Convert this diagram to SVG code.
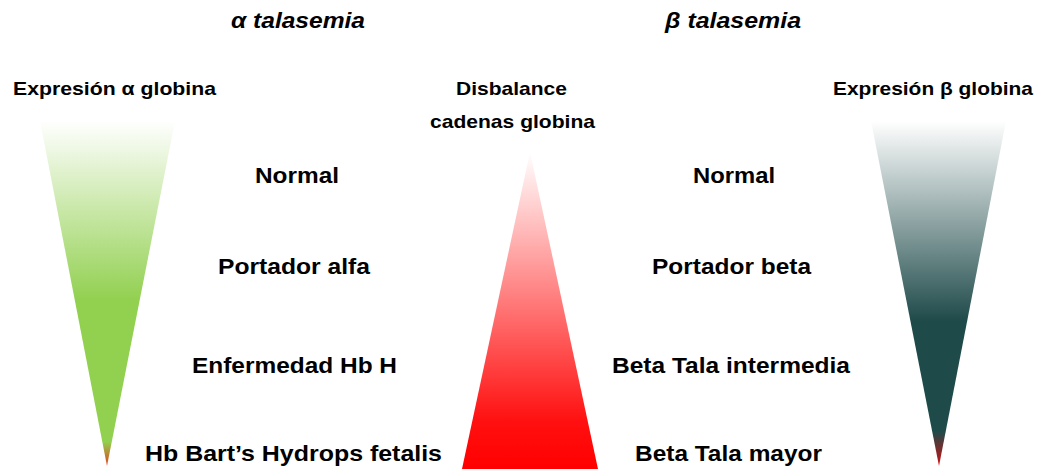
<svg xmlns="http://www.w3.org/2000/svg" width="1037" height="470" viewBox="0 0 1037 470">
<style>
.t{font-family:"Liberation Sans",Arial,sans-serif;font-weight:bold;fill:#000;text-anchor:middle}
.h{font-size:22px;font-style:italic}
.s{font-size:19px}
.l{font-size:22px}
</style>
<defs>
<linearGradient id="gA" x1="0" y1="121" x2="0" y2="466" gradientUnits="userSpaceOnUse">
<stop offset="0" stop-color="#ffffff"/>
<stop offset="0.52" stop-color="#92d050"/>
<stop offset="0.93" stop-color="#92d050"/>
<stop offset="1" stop-color="#e0401a"/>
</linearGradient>
<linearGradient id="gR" x1="0" y1="152" x2="0" y2="469" gradientUnits="userSpaceOnUse">
<stop offset="0" stop-color="#ffffff"/>
<stop offset="0.85" stop-color="#ff1010"/>
<stop offset="1" stop-color="#ff0000"/>
</linearGradient>
<linearGradient id="gB" x1="0" y1="121" x2="0" y2="466" gradientUnits="userSpaceOnUse">
<stop offset="0" stop-color="#ffffff"/>
<stop offset="0.58" stop-color="#1f4a4a"/>
<stop offset="0.9" stop-color="#1f4a4a"/>
<stop offset="1" stop-color="#d01010"/>
</linearGradient>
</defs>
<g id="titles">
<text class="t h" x="298" y="28" textLength="134" lengthAdjust="spacingAndGlyphs">α talasemia</text>
<text class="t h" x="733" y="28" textLength="136" lengthAdjust="spacingAndGlyphs">β talasemia</text>
</g>
<g id="alpha-triangle">
<polygon points="40,121 175,121 107,466" fill="url(#gA)"/>
<text class="t s" x="114.5" y="95" textLength="203" lengthAdjust="spacingAndGlyphs">Expresión α globina</text>
</g>
<g id="imbalance-triangle">
<polygon points="530,152 598,469 462,469" fill="url(#gR)"/>
<text class="t s" x="511.5" y="95" textLength="111" lengthAdjust="spacingAndGlyphs">Disbalance</text>
<text class="t s" x="512.5" y="128" textLength="165" lengthAdjust="spacingAndGlyphs">cadenas globina</text>
</g>
<g id="beta-triangle">
<polygon points="871,121 1006,121 939,466" fill="url(#gB)"/>
<text class="t s" x="933" y="95" textLength="200" lengthAdjust="spacingAndGlyphs">Expresión β globina</text>
</g>
<g id="alpha-labels">
<text class="t l" x="297" y="183" textLength="84" lengthAdjust="spacingAndGlyphs">Normal</text>
<text class="t l" x="294" y="274" textLength="152" lengthAdjust="spacingAndGlyphs">Portador alfa</text>
<text class="t l" x="294.5" y="373" textLength="205" lengthAdjust="spacingAndGlyphs">Enfermedad Hb H</text>
<text class="t l" x="293.5" y="461" textLength="297" lengthAdjust="spacingAndGlyphs">Hb Bart’s Hydrops fetalis</text>
</g>
<g id="beta-labels">
<text class="t l" x="734" y="183" textLength="82" lengthAdjust="spacingAndGlyphs">Normal</text>
<text class="t l" x="731.5" y="274" textLength="159" lengthAdjust="spacingAndGlyphs">Portador beta</text>
<text class="t l" x="731" y="373" textLength="238" lengthAdjust="spacingAndGlyphs">Beta Tala intermedia</text>
<text class="t l" x="728.5" y="461" textLength="187" lengthAdjust="spacingAndGlyphs">Beta Tala mayor</text>
</g>
<g id="connectors"/>
</svg>
